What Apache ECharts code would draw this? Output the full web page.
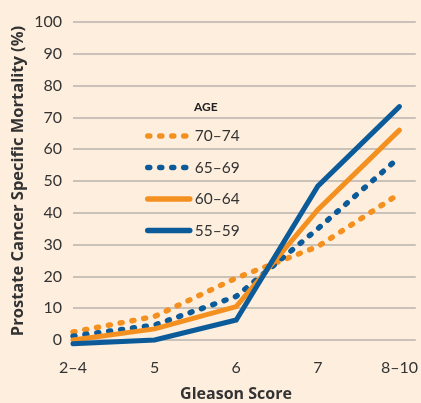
<!DOCTYPE html>
<html><head><meta charset="utf-8">
<script src="https://cdn.jsdelivr.net/npm/echarts@6/dist/echarts.min.js"></script>
<style>html,body{margin:0;padding:0;background:#fdeedd;}#c{width:421px;height:403px;}</style>
</head><body><div id="c"></div>
<script>
const categories = ['2–4', '5', '6', '7', '8–10'];
const yTicks = [0, 10, 20, 30, 40, 50, 60, 70, 80, 90, 100];
const seriesNames = ['70–74', '65–69', '60–64', '55–59'];
const age70_74 = [2.5, 7.4, 19.5, 29.4, 46];
const age65_69 = [1.2, 4.7, 13.7, 35, 57.5];
const age60_64 = [0, 3.5, 10.5, 41, 66];
const age55_59 = [-1.2, 0, 6.3, 48.4, 73.4];

const ORANGE = '#f39020';
const BLUE = '#0b5b9b';
const FONT = 'Lato';
const NAMEFONT = 'Open Sans';

function pts(arr) { return arr.map((v, i) => [i, v]); }
function mk(name, data, color, dotted) {
  return {
    name, type: 'line', data: pts(data), symbol: 'none', clip: false,
    lineStyle: dotted ? { color, width: 5.5, type: [2, 10], cap: 'round' } : { color, width: 5, cap: 'round', join: 'miter' },
    itemStyle: { color }
  };
}

const chart = echarts.init(document.getElementById('c'));
chart.setOption({
  backgroundColor: '#fdeedd',
  animation: false,
  textStyle: { fontFamily: FONT },
  title: {
    text: 'AGE', left: 189, top: 96,
    textStyle: { fontFamily: FONT, fontSize: 12, fontWeight: 'bold', color: '#222' }
  },
  legend: {
    orient: 'vertical', left: 140, top: 123,
    itemWidth: 42, itemHeight: 6, itemGap: 15.5,
    data: seriesNames,
    itemStyle: { opacity: 0 },
    lineStyle: { width: 5.5, cap: 'round' },
    textStyle: { fontFamily: FONT, fontSize: 15.5, color: '#333' }
  },
  grid: { left: 73, right: 4, top: 22, bottom: 63, containLabel: false },
  xAxis: {
    type: 'value', min: 0, max: 4.2, interval: 1,
    axisLine: { show: false }, axisTick: { show: false }, splitLine: { show: false },
    axisLabel: {
      margin: 20, fontSize: 16, color: '#333', fontFamily: FONT,
      formatter: v => (Number.isInteger(v) && categories[v] !== undefined) ? categories[v] : '',
      showMaxLabel: false
    }
  },
  yAxis: {
    type: 'value', min: yTicks[0], max: yTicks[yTicks.length - 1], interval: 10,
    axisLine: { show: false }, axisTick: { show: false },
    splitLine: { lineStyle: { color: '#b8b2ab', width: 1.5 } },
    axisLabel: { margin: 11, fontSize: 16, color: '#333', fontFamily: FONT }
  },
  graphic: [{
    type: 'text', x: 236, y: 386,
    style: { text: 'Gleason Score', x: 0, y: 0, align: 'center', font: 'bold 16px "' + NAMEFONT + '"', fill: '#333' }
  }, {
    type: 'text', x: 18, y: 181, rotation: Math.PI / 2,
    style: { text: 'Prostate Cancer Specific Mortality (%)', x: 0, y: 0, align: 'center', verticalAlign: 'middle', font: 'bold 16.5px "' + NAMEFONT + '"', fill: '#333' }
  }],
  series: [
    mk(seriesNames[0], age70_74, ORANGE, true),
    mk(seriesNames[1], age65_69, BLUE, true),
    mk(seriesNames[2], age60_64, ORANGE, false),
    mk(seriesNames[3], age55_59, BLUE, false)
  ]
});
</script></body></html>
